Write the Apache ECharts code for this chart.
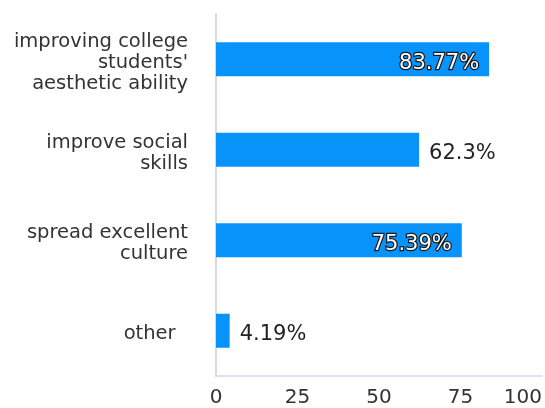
<!DOCTYPE html>
<html>
<head>
<meta charset="utf-8">
<script src="https://cdn.jsdelivr.net/npm/echarts@6/dist/echarts.min.js"></script>
<style>
  html, body { margin: 0; padding: 0; background: #fff; }
  #chart { width: 545px; height: 408px; }
</style>
</head>
<body>
<div id="chart"></div>
<script>
// Survey categories, listed top to bottom
const categories = [
  "improving college\nstudents'\naesthetic ability",
  "improve social\nskills",
  "spread excellent\nculture",
  "other  "
];
// Share of respondents (%)
const values = [83.77, 62.3, 75.39, 4.19];
// Where each value label sits relative to its bar
const labelPlacement = ["insideRight", "right", "insideRight", "right"];
const xTicks = [0, 25, 50, 75, 100];

const FONT = "'DejaVu Sans', 'Noto Sans', sans-serif";
const BAR = "#0893fb";

const chart = echarts.init(document.getElementById("chart"), null, { renderer: "canvas" });

const seriesData = values.map((v, i) => {
  const inside = labelPlacement[i] === "insideRight";
  return {
    value: v,
    label: {
      position: labelPlacement[i],
      distance: 10,
      color: inside ? "#ffffff" : "#222222",
      textBorderColor: inside ? "#1a1a1a" : "transparent",
      textBorderWidth: inside ? 2.5 : 0
    }
  };
});

// Category names drawn as rich text; a thin empty line on top nudges the block down a little
const categoryFormatter = name =>
  "{s|}\n" + name.split("\n").map(line => "{t|" + line + "}").join("\n");

chart.setOption({
  animation: false,
  grid: { left: 216, right: 2, top: 14, bottom: 30, containLabel: false },
  xAxis: {
    type: "value",
    min: xTicks[0],
    max: xTicks[xTicks.length - 1],
    interval: 25,
    axisLine: { show: true, lineStyle: { color: "#d3daee", width: 1.5 } },
    axisTick: { show: false },
    splitLine: { show: false },
    axisLabel: {
      color: "#333333",
      fontSize: 20,
      fontFamily: FONT,
      margin: 12,
      alignMaxLabel: "right"
    }
  },
  yAxis: {
    type: "category",
    inverse: true,
    data: categories,
    axisLine: { show: true, lineStyle: { color: "#d3daee", width: 2 } },
    axisTick: { show: false },
    axisLabel: {
      color: "#333333",
      fontSize: 19.5,
      fontFamily: FONT,
      margin: 28,
      align: "right",
      formatter: categoryFormatter,
      rich: {
        s: { fontSize: 2, lineHeight: 7 },
        t: { fontSize: 19.5, lineHeight: 21, fontFamily: FONT, color: "#333333" }
      }
    }
  },
  series: [{
    type: "bar",
    data: seriesData,
    barWidth: 34,
    itemStyle: { color: BAR },
    label: {
      show: true,
      fontSize: 21,
      fontFamily: FONT,
      offset: [0, 4],
      formatter: p => p.value + "%"
    }
  }]
});
</script>
</body>
</html>
